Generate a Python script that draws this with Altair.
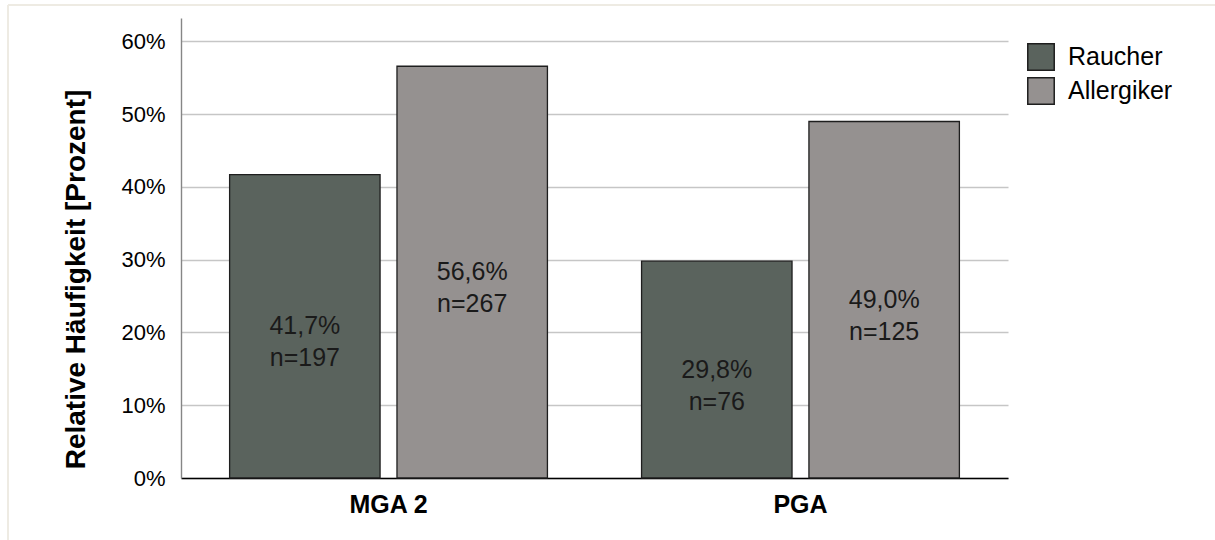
import altair as alt
import pandas as pd

# Relative frequency of smokers / allergy sufferers per group
groups = ["MGA 2", "MGA 2", "PGA", "PGA"]
series = ["Raucher", "Allergiker", "Raucher", "Allergiker"]
shares = [0.417, 0.566, 0.298, 0.490]
counts = [197, 267, 76, 125]

series_order = ["Raucher", "Allergiker"]
series_colors = ["#5a635d", "#959190"]
FONT = "Liberation Sans"


def bar_label(v, n):
    return f"{v * 100:.1f}".replace(".", ",") + "%\n" + f"n={n}"


df = pd.DataFrame({
    "gruppe": groups,
    "serie": series,
    "anteil": shares,
    "n": counts,
    "label": [bar_label(v, n) for v, n in zip(shares, counts)],
})

x_enc = alt.X(
    "gruppe:N",
    title=None,
    scale=alt.Scale(paddingInner=0.2285, paddingOuter=0.118),
    axis=alt.Axis(
        labelAngle=0, labelFont=FONT, labelFontSize=25, labelFontWeight="bold",
        labelColor="#000000", labelPadding=14, ticks=False,
        domainColor="#000000", domainWidth=1.6, grid=False,
    ),
)
xoff_enc = alt.XOffset(
    "serie:N", sort=series_order,
    scale=alt.Scale(paddingInner=0.101, paddingOuter=0),
)

bars = alt.Chart(df).mark_bar(stroke="#1e1e1e", strokeWidth=1.3).encode(
    x=x_enc,
    xOffset=xoff_enc,
    y=alt.Y(
        "anteil:Q",
        title="Relative Häufigkeit [Prozent]",
        scale=alt.Scale(domain=[0, 0.6323], nice=False),
        axis=alt.Axis(
            values=[0, 0.1, 0.2, 0.3, 0.4, 0.5, 0.6], format=".0%",
            labelFont=FONT, labelFontSize=22, labelColor="#000000",
            labelPadding=16, ticks=False,
            domainColor="#868686", domainWidth=1.4,
            gridColor="#c6c6c6", gridWidth=1.3,
            titleFont=FONT, titleFontSize=28, titleFontWeight="bold",
            titleColor="#000000", titleX=-105, titleY=261,
            titleAngle=270, titleAlign="center", titleBaseline="middle",
        ),
    ),
    color=alt.Color(
        "serie:N", sort=series_order,
        scale=alt.Scale(domain=series_order, range=series_colors),
        legend=alt.Legend(
            title=None, orient="none", legendX=846, legendY=25,
            symbolType="square", symbolSize=700, symbolStrokeColor="#1e1e1e",
            symbolStrokeWidth=1.5, symbolOpacity=1,
            labelFont=FONT, labelFontSize=25, labelColor="#000000",
            labelOffset=13, rowPadding=0,
        ),
    ),
)

labels = alt.Chart(df).transform_calculate(
    mitte="datum.anteil / 2"
).mark_text(
    font=FONT, fontSize=25, lineHeight=32, color="#1a1a1a",
    lineBreak="\n", baseline="middle", align="center",
).encode(
    x=x_enc,
    xOffset=xoff_enc,
    y=alt.Y("mitte:Q"),
    text="label:N",
)

# light frame around the figure
frame_top = alt.Chart(df).mark_rule(color="#eeebe3", strokeWidth=2).encode(
    x=alt.value(-173), x2=alt.value(1040), y=alt.value(-13)
)
frame_left = alt.Chart(df).mark_rule(color="#eeebe3", strokeWidth=2).encode(
    x=alt.value(-173), y=alt.value(-13), y2=alt.value(530)
)

chart = alt.layer(frame_top, frame_left, bars, labels).properties(
    width=827,
    height=460,
    autosize=alt.AutoSizeParams(type="none"),
    padding={"left": 181, "top": 18, "right": 207, "bottom": 62},
    background="#ffffff",
).configure_view(stroke=None)

chart.save("out.html", embed_options={"renderer": "svg", "actions": False})
